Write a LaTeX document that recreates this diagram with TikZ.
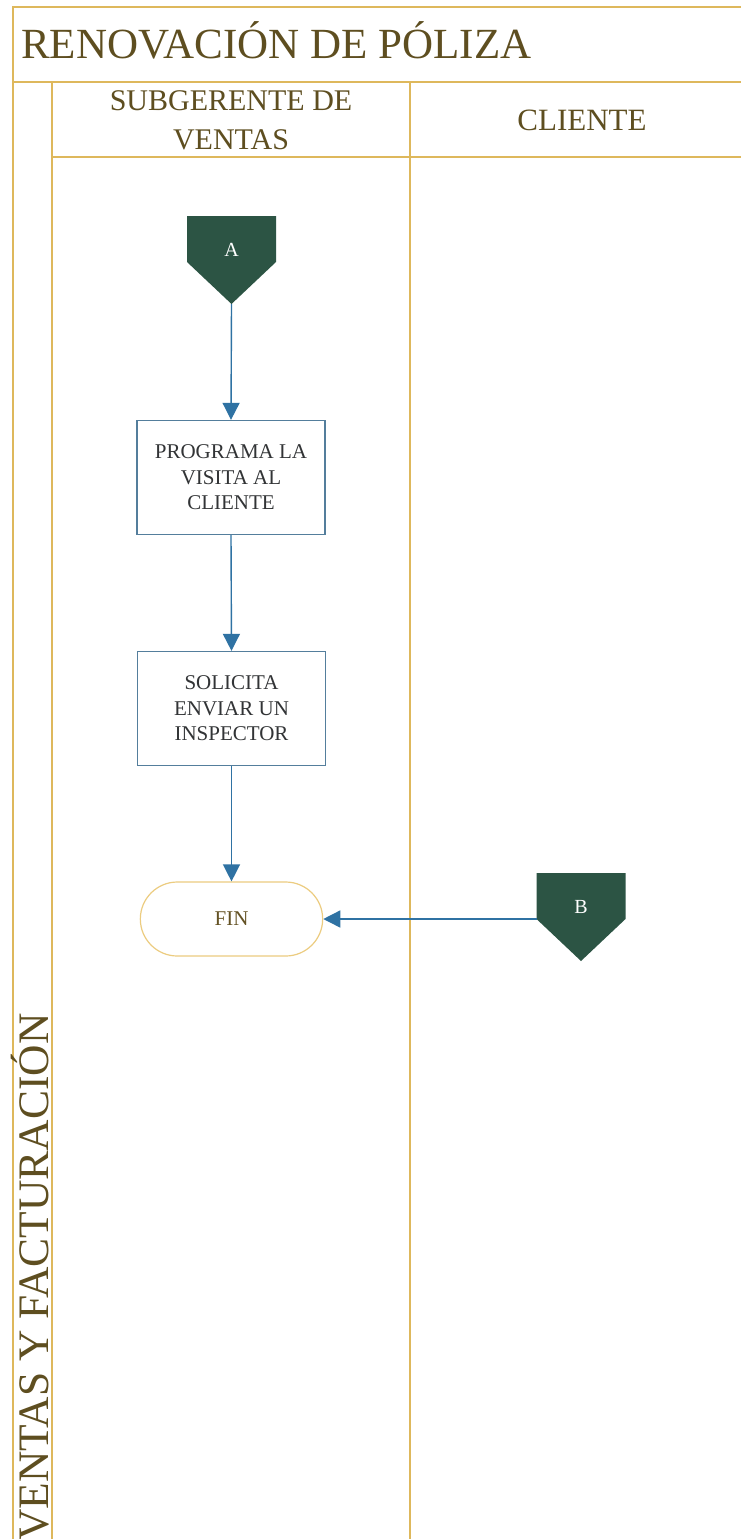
\documentclass[tikz,border=0pt]{standalone}
\usepackage{fontspec}
\setmainfont{Liberation Serif}
\usetikzlibrary{calc,arrows.meta,shapes.misc}
\pgfdeclarelayer{background}
\pgfsetlayers{background,main}

\definecolor{laneline}{RGB}{222,184,92}
\definecolor{headtext}{RGB}{94,78,32}
\definecolor{flowblue}{RGB}{47,114,163}
\definecolor{boxline}{RGB}{84,126,156}
\definecolor{boxtext}{RGB}{50,52,54}
\definecolor{connfill}{RGB}{44,84,68}
\definecolor{finline}{RGB}{236,204,128}
\definecolor{fintext}{RGB}{100,82,36}

\begin{document}
\begin{tikzpicture}[x=1pt,y=-1pt,
  lane/.style={draw=laneline, line width=1.8pt},
  process/.style={draw=boxline, line width=1.3pt, minimum width=188pt,
    minimum height=114pt, align=center, text=boxtext,
    font=\fontsize{21}{25.5}\selectfont},
  terminal/.style={rounded rectangle, draw=finline, line width=1.2pt,
    minimum width=189pt, minimum height=74pt, text=fintext,
    font=\fontsize{21}{25}\selectfont},
  offlabel/.style={inner sep=0pt, text=white, font=\fontsize{20}{24}\selectfont},
  flowline/.style={draw=flowblue, line width=1.4pt,
    -{Triangle[length=17pt,width=17pt]}},
  headline/.style={text=headtext, align=center, inner sep=0pt}
]
\useasboundingbox (0,0) rectangle (741,1539);
\clip (0,0) rectangle (741,1539);

% swimlane frame
\draw[lane] (13,1545) -- (13,7) -- (745,7);
\draw[lane] (13,82) -- (745,82);
\draw[lane] (52,82) -- (52,1545);
\draw[lane] (52,157) -- (745,157);
\draw[lane] (410,82) -- (410,1545);

% titles
\node[anchor=base west, inner sep=0pt, text=headtext,
  font=\fontsize{43}{50}\selectfont] (title) at (21,58) {RENOVACIÓN DE PÓLIZA};
\node[headline, font=\fontsize{30}{39}\selectfont] (lane1) at (231,120) {SUBGERENTE DE\\VENTAS};
\node[headline, font=\fontsize{31}{39}\selectfont] (lane2) at (582,120) {CLIENTE};
\node[rotate=90, anchor=base west, inner sep=0pt, text=headtext,
  font=\fontsize{43.5}{50}\selectfont] (dept) at (48,1541) {VENTAS Y FACTURACIÓN};

% off-page connectors
\node[offlabel] (A) at (231.5,250) {A};
\node[offlabel] (B) at (581,907) {B};
\begin{pgfonlayer}{background}
  \fill[white] (0,0) rectangle (741,1539);
  \foreach \c in {A,B}{
    \fill[connfill] ($(\c)+(-44.5,-34)$) -- ++(89,0) -- ++(0,46)
      -- ++(-44.5,42) -- ++(-44.5,-42) -- cycle;
  }
\end{pgfonlayer}
\coordinate (Atip) at ($(A)+(0,54)$);
\coordinate (Bside) at ($(B)+(-44.5,12)$);

% process steps
\node[process] (P1) at (231,477.5) {PROGRAMA LA\\VISITA AL\\CLIENTE};
\node[process] (P2) at (231.5,708.5) {SOLICITA\\ENVIAR UN\\INSPECTOR};
\node[terminal] (FIN) at (231.5,919) {FIN};

% flow
\draw[flowline] (Atip) -- (P1.north);
\draw[flowline] (P1.south) -- (P2.north);
\draw[flowline] (P2.south) -- (FIN.north);
\draw[flowline] (Bside) -- (FIN.east);
\end{tikzpicture}
\end{document}
